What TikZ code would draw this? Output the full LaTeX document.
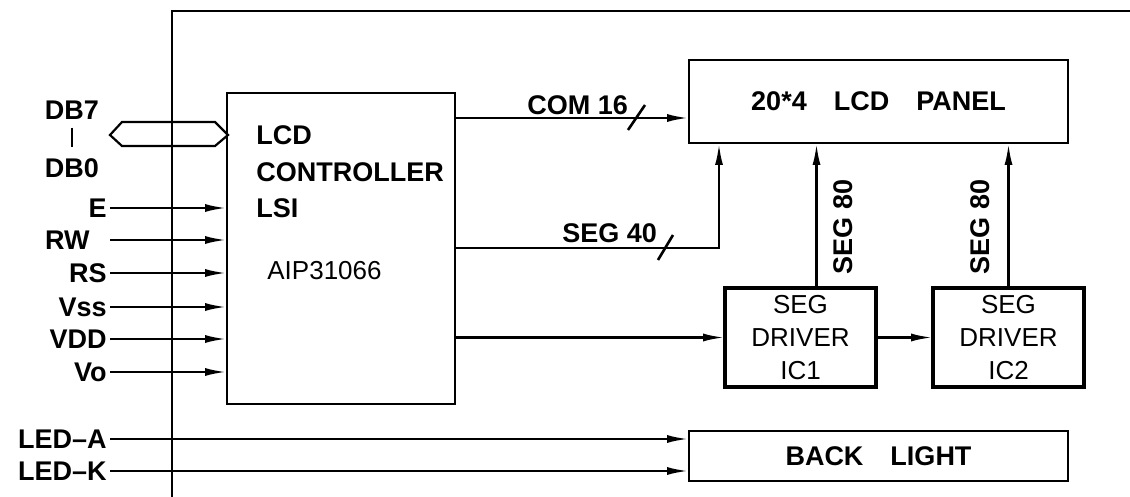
\documentclass[tikz,border=0pt]{standalone}
\usepackage{fontspec}
\setmainfont{Liberation Sans}
\usetikzlibrary{arrows.meta}
\tikzset{
  sig/.style={line width=1.3pt,-{Latex[length=11pt,width=4pt]}},
  wire/.style={line width=1.3pt},
  cad/.style={font=\fontsize{13.5}{16}\selectfont\bfseries,inner sep=1.5pt},
  pin/.style={cad,anchor=east},
  blk/.style={draw,line width=1.1pt,inner sep=0pt,outer sep=0pt},
  drv/.style={draw,line width=1.7pt,inner sep=0pt,outer sep=0pt,minimum width=75.5pt,minimum height=49.5pt,align=center,font=\fontsize{13}{16.5}\selectfont}
}

\begin{document}
\begin{tikzpicture}[x=0.5pt,y=-0.5pt]
      \useasboundingbox (0,0) rectangle (1130,497);
      \draw[wire] (172,497) |- (1130,11);
      \node[blk,minimum width=114pt,minimum height=155.5pt] (ctrl) at (341,248.5) {};
      \node[cad,blk,minimum width=189.5pt,minimum height=41.5pt] (pnl) at (878.5,101.5) {20*4\quad LCD\quad PANEL};
      \node[drv] (ic1) at (800.5,337.5) {SEG\\DRIVER\\IC1};
      \node[drv] (ic2) at (1008.5,337.5) {SEG\\DRIVER\\IC2};
      \node[cad,blk,minimum width=189.5pt,minimum height=25pt] (bl) at (878.5,456) {BACK\quad LIGHT};
      \node[cad,anchor=west] (lcd) at (253,135) {LCD};
      \node[cad,anchor=west] (ctl) at (253,172) {CONTROLLER};
      \node[cad,anchor=west] (lsi) at (253,208) {LSI};
      \node[anchor=west,inner sep=1.5pt,font=\fontsize{13}{15}\selectfont] (aip) at (264,271) {AIP31066};
      \node[cad] (db7) at (72,110) {DB7};
      \node[cad] (db0) at (72,168) {DB0};
      \draw[line width=1.1pt] ([yshift=-2.5pt]db7.south) -- ([yshift=4pt]db0.north);
      \draw[line width=1.1pt] (110,135) -- (122,122) -- (215,122) -- (228,135) -- (215,146) -- (122,146) -- cycle;
      \node[pin] (e) at (110,208) {E};
      \node[pin] (rw) at (93,240) {RW};
      \node[pin] (rs) at (110,273) {RS};
      \node[pin] (vss) at (110,307) {Vss};
      \node[pin] (vdd) at (110,339) {VDD};
      \node[pin] (vo) at (110,372) {Vo};
      \node[pin] (leda) at (110,439) {LED--A};
      \node[pin] (ledk) at (110,471) {LED--K};
      \draw[sig] (e.east) -- (e.east -| ctrl.west);
      \draw[sig] (rw.east) ++(17,0) -- (rw.east -| ctrl.west);
      \draw[sig] (rs.east) -- (rs.east -| ctrl.west);
      \draw[sig] (vss.east) -- (vss.east -| ctrl.west);
      \draw[sig] (vdd.east) -- (vdd.east -| ctrl.west);
      \draw[sig] (vo.east) -- (vo.east -| ctrl.west);
      \draw[sig] (leda.east) -- (leda.east -| bl.west);
      \draw[sig] (ledk.east) -- (ledk.east -| bl.west);
      \coordinate (com) at (ctrl.east |- 0,118);
      \coordinate (seg) at (ctrl.east |- 0,248);
      \draw[sig] (com) -- (com -| pnl.west);
      \node[cad,anchor=west] at (524,105) {COM 16};
      \draw[wire] (628,130) -- (645,105);
      \draw[sig] (seg) -| ([xshift=15pt]pnl.south west);
      \node[cad,anchor=west] at (559,233) {SEG 40};
      \draw[wire] (658,260) -- (673,235);
      \draw[sig] (ctrl.east |- ic1.west) -- (ic1.west);
      \draw[sig] (ic1.east) -- (ic2.west);
      \draw[sig] ([xshift=8pt]ic1.north) -- ([xshift=8pt]ic1.north |- pnl.south);
      \draw[sig] (ic2.north) -- (ic2.north |- pnl.south);
      \node[cad,rotate=90] at (843,227) {SEG 80};
      \node[cad,rotate=90] at (980,227) {SEG 80};
    \end{tikzpicture}
\end{document}
